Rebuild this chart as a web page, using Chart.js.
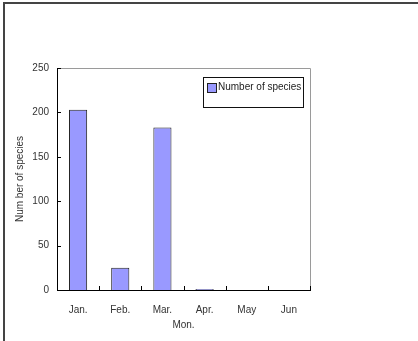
<!DOCTYPE html>
<html><head><meta charset="utf-8">
<script src="https://cdn.jsdelivr.net/npm/chart.js@4"></script>
<style>
html,body{margin:0;padding:0;background:#fff;overflow:hidden;}
#wrap{position:relative;width:418px;height:341px;overflow:hidden;}
#frame{position:absolute;left:3px;top:2px;width:600px;height:500px;border-top:2px solid #444;border-left:2px solid #444;box-sizing:border-box;}
#legend{position:absolute;left:203px;top:77px;width:101px;height:31px;border:1px solid #111;box-sizing:border-box;font:10px "Liberation Sans",Arial,sans-serif;color:#222;}
#legend .sw{position:absolute;left:3px;top:5px;width:8px;height:8px;background:#9999FF;border:1px solid #222;}
#legend .tx{position:absolute;left:14px;top:3px;white-space:nowrap;}
canvas{position:absolute;left:0;top:0;}
</style></head>
<body><div id="wrap"><div id="frame"></div><canvas id="c" width="418" height="341"></canvas><div id="legend"><div class="sw"></div><div class="tx" id="legtx"></div></div></div>
<script>
const categories = ["Jan.", "Feb.", "Mar.", "Apr.", "May", "Jun"];
const speciesCounts = [203, 25, 183, 1, 0, 0];
const yTicks = [0, 50, 100, 150, 200, 250];
const seriesLabel = "Number of species";
const xTitle = "Mon.";
const yTitle = "Num ber of species";

document.getElementById('legtx').textContent = seriesLabel;

const FONT = {family: '"Liberation Sans", Arial, sans-serif', size: 10};

const framePlugin = {
  id: 'framePlugin',
  afterDraw(chart) {
    const {ctx, chartArea: a, scales} = chart;
    ctx.save();
    ctx.strokeStyle = '#9a9a9a'; ctx.lineWidth = 1;
    ctx.beginPath();
    ctx.moveTo(a.left, a.top + 0.5); ctx.lineTo(a.right + 0.5, a.top + 0.5);
    ctx.lineTo(a.right + 0.5, a.bottom);
    ctx.stroke();
    ctx.strokeStyle = '#000';
    ctx.beginPath();
    ctx.moveTo(a.left + 0.5, a.top); ctx.lineTo(a.left + 0.5, a.bottom + 0.5);
    ctx.lineTo(a.right + 1, a.bottom + 0.5);
    ctx.stroke();
    const y = scales.y;
    y.ticks.forEach((t, i) => {
      const py = Math.round(y.getPixelForTick(i)) + 0.5;
      ctx.beginPath(); ctx.moveTo(a.left, py); ctx.lineTo(a.left + 4, py); ctx.stroke();
    });
    const n = categories.length;
    for (let i = 0; i <= n; i++) {
      const px = Math.round(a.left + (a.right - a.left) * i / n) + 0.5;
      ctx.beginPath(); ctx.moveTo(px, a.bottom); ctx.lineTo(px, a.bottom - 4); ctx.stroke();
    }
    ctx.restore();
  }
};

new Chart(document.getElementById('c'), {
  type: 'bar',
  data: {
    labels: categories,
    datasets: [{
      label: seriesLabel,
      data: speciesCounts,
      backgroundColor: '#9999FF',
      borderColor: '#222',
      borderWidth: 1,
      barPercentage: 0.43,
      categoryPercentage: 1.0
    }]
  },
  options: {
    responsive: false,
    animation: false,
    devicePixelRatio: 1,
    layout: {padding: {top: 68, right: 108, bottom: 0, left: 0}},
    plugins: {legend: {display: false}, tooltip: {enabled: false}},
    scales: {
      x: {
        grid: {display: false, drawTicks: false},
        border: {display: false},
        ticks: {font: FONT, color: '#333', padding: 14},
        title: {display: true, text: xTitle, font: FONT, color: '#333', padding: {top: 2, bottom: 10}},
        afterFit(s) { s.height = 51; }
      },
      y: {
        min: 0, max: 250,
        afterBuildTicks(s) { s.ticks = yTicks.map(v => ({value: v})); },
        grid: {display: false, drawTicks: false},
        border: {display: false},
        ticks: {font: FONT, color: '#333', padding: 8},
        title: {display: true, text: yTitle, font: FONT, color: '#333', padding: {top: 14, bottom: 0}},
        afterFit(s) { s.width = 57; }
      }
    }
  },
  plugins: [framePlugin]
});
</script></body></html>
